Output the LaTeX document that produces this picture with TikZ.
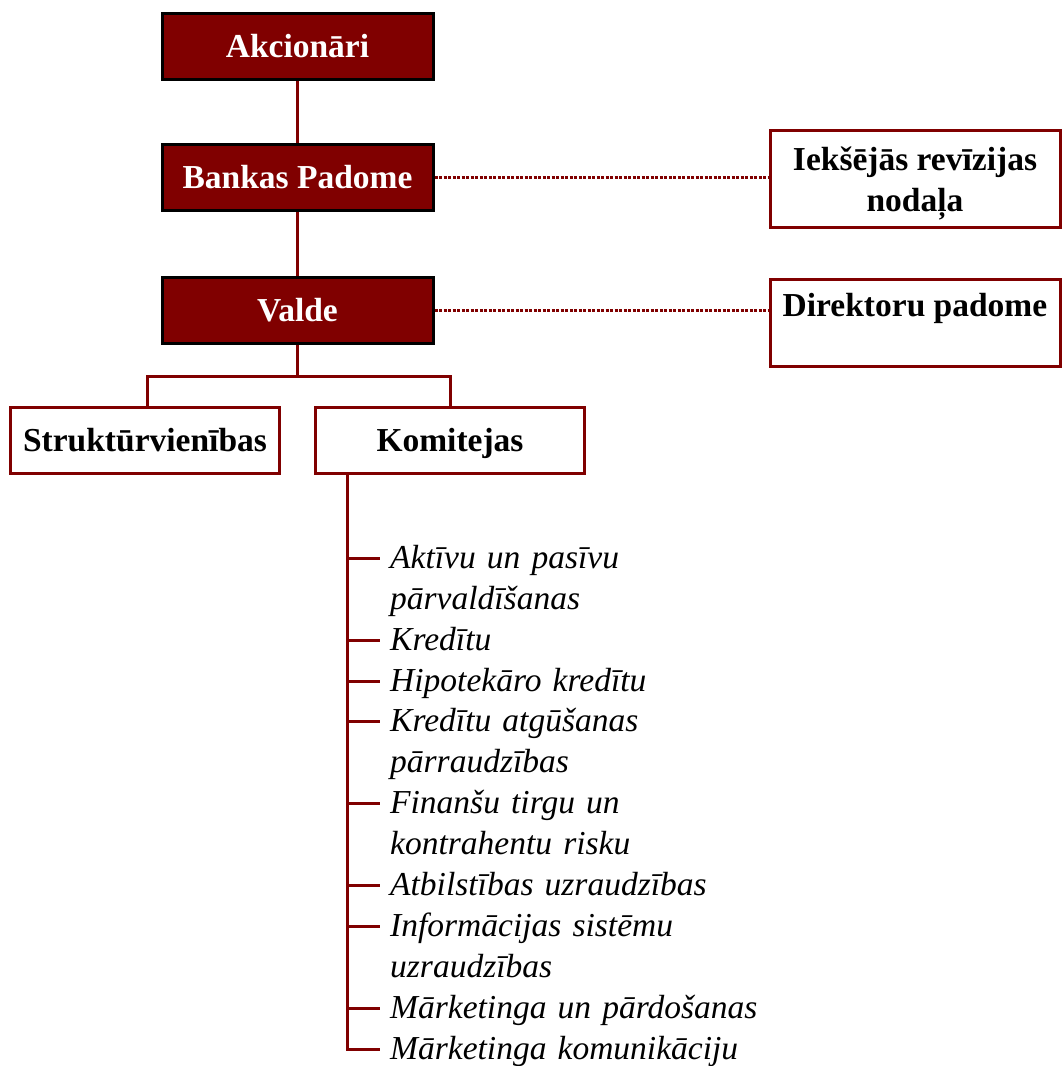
\documentclass[tikz,border=0pt]{standalone}
\usepackage{fontspec}
\setmainfont{Liberation Serif}
\definecolor{dred}{HTML}{800000}
\begin{document}
\begin{tikzpicture}[x=1pt,y=-1pt,
  darkbox/.style={font=\fontsize{33.5}{40.9}\selectfont\bfseries, draw=black, line width=3pt, fill=dred, text=white,
    minimum width=271pt, inner sep=0pt, text height=44pt, text depth=22.5pt, anchor=base},
  whitebox/.style={font=\fontsize{33.5}{40.9}\selectfont\bfseries, draw=dred, line width=3pt, fill=white, text=black,
    inner sep=0pt, anchor=base},
  conn/.style={draw=dred, line width=3pt},
  dotline/.style={draw=dred, line width=2.6pt, dash pattern=on 3pt off 1.5pt},
  item/.style={font=\fontsize{33.5}{40.9}\selectfont\itshape, anchor=base west, text width=440pt, align=left, inner sep=0pt}
]
\useasboundingbox (0,0) rectangle (1061,1066);

% main chain
\node[darkbox] (ak) at (297.5,57) {Akcionāri};
\node[darkbox] (bp) at (297.5,188) {Bankas Padome};
\node[darkbox] (va) at (297.5,321) {Valde};

% right boxes (base = last line for a multi-line node)
\node[whitebox, minimum width=290pt, text height=81pt, text depth=16pt, align=center] (ir) at (915,211)
  {Iekšējās revīzijas\\nodaļa};
\node[whitebox, minimum width=290pt, text height=37pt, text depth=50pt] (dp) at (915,316) {Direktoru padome};

% lower boxes
\node[whitebox, minimum width=269pt, text height=44pt, text depth=22pt] (st) at (145,451) {Struktūrvienības};
\node[whitebox, minimum width=269pt, text height=44pt, text depth=22pt] (ko) at (450,451) {Komitejas};

% connectors
\draw[conn] (ak) -- (bp);
\draw[conn] (bp) -- (va);
\coordinate (br) at (297.5,376);
\draw[conn] (va.south) -- (br);
\draw[conn] (st.north -| 147,0) |- (br) -| (ko.north);
\draw[dotline] (bp.east) -- (bp.east -| ir.west);
\draw[dotline] (va.east) -- (va.east -| dp.west);

% committee list
\coordinate (trunk) at (347,1049);
\node[item] (i1) at (390,568.3) {Aktīvu un pasīvu\\pārvaldīšanas};
\node[item] (i2) at (390,650.1) {Kredītu};
\node[item] (i3) at (390,691.0) {Hipotekāro kredītu};
\node[item] (i4) at (390,731.9) {Kredītu atgūšanas\\pārraudzības};
\node[item] (i5) at (390,813.7) {Finanšu tirgu un\\kontrahentu risku};
\node[item] (i6) at (390,895.5) {Atbilstības uzraudzības};
\node[item] (i7) at (390,936.4) {Informācijas sistēmu\\uzraudzības};
\node[item] (i8) at (390,1018.2) {Mārketinga un pārdošanas};
\node[item] (i9) at (390,1059.1) {Mārketinga komunikāciju};

\foreach \k/\y in {1/558.3,2/640.1,3/681.0,4/721.9,5/803.7,6/885.5,7/926.4,8/1008.2}{
  \coordinate (t\k) at (380,\y);
  \draw[conn] (t\k -| trunk) -- (t\k);
}
\coordinate (t9) at (380,1049);
\draw[conn, line join=miter] (ko.south -| trunk) -- (trunk) -- (t9);
\end{tikzpicture}
\end{document}
